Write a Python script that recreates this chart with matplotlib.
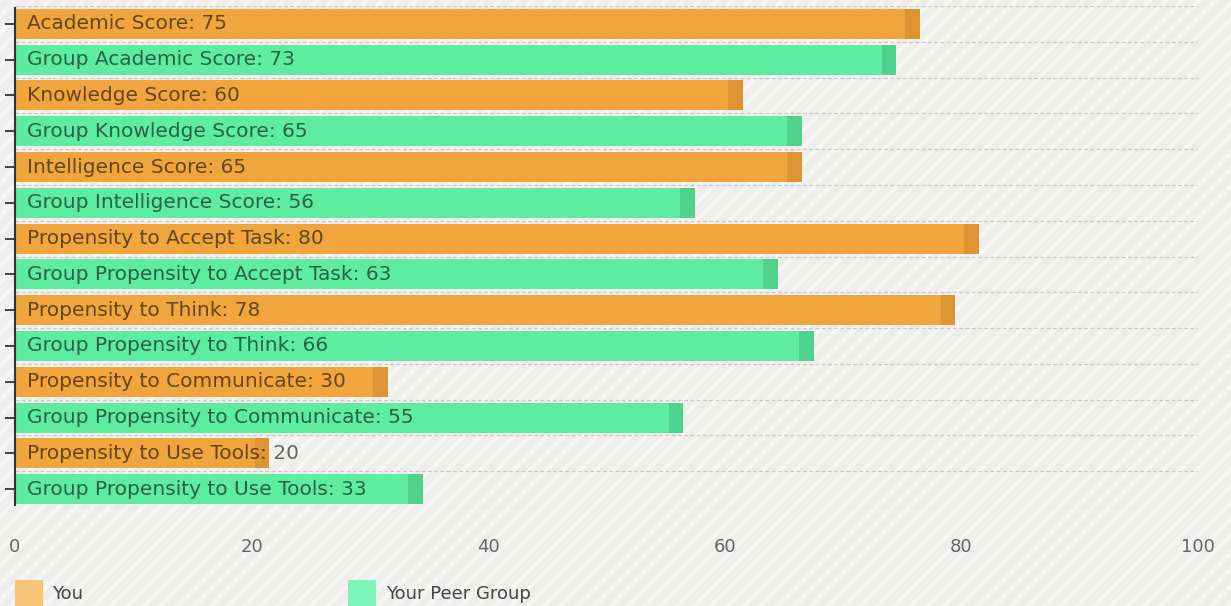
import matplotlib.pyplot as plt
from matplotlib.patches import Rectangle
import numpy as np

labels = ["Academic Score", "Group Academic Score", "Knowledge Score", "Group Knowledge Score",
          "Intelligence Score", "Group Intelligence Score", "Propensity to Accept Task",
          "Group Propensity to Accept Task", "Propensity to Think", "Group Propensity to Think",
          "Propensity to Communicate", "Group Propensity to Communicate",
          "Propensity to Use Tools", "Group Propensity to Use Tools"]
values = [75, 73, 60, 65, 65, 56, 80, 63, 78, 66, 30, 55, 20, 33]
series = ["You", "Peer", "You", "Peer", "You", "Peer", "You", "Peer", "You", "Peer", "You", "Peer", "You", "Peer"]
xticks = [0, 20, 40, 60, 80, 100]
legend_names = ["You", "Your Peer Group"]

plt.rcParams['font.family'] = ['DejaVu Sans']
plt.rcParams['hatch.linewidth'] = 3.0

col = {"You": "#f0a63c", "Peer": "#5eeda0"}
cap = {"You": "#dc9532", "Peer": "#4fd38c"}
leg = {"You": "#f7c374", "Peer": "#80f5ba"}

fig = plt.figure(figsize=(12.31, 6.06), dpi=100)
fig.patch.set_facecolor("#efeeec")
bg = Rectangle((0, 0), 1, 1, transform=fig.transFigure, facecolor="#efeeec",
               edgecolor="#f6f6f4", hatch="//", linewidth=0, zorder=-10)
fig.patches.append(bg)

ax = fig.add_axes([15/1231, 1-507/606, 1183/1231, 501/606])
ax.set_facecolor("none")
n = len(labels)
y = np.arange(n)
h = 0.84
for i in range(n):
    s = series[i]
    v = values[i]
    ax.barh(y[i], v + 0.25, height=h, color=col[s], zorder=2)
    ax.barh(y[i], 1.25, left=v + 0.25, height=h, color=cap[s], zorder=2)
    ax.annotate(f"{labels[i]}: {v}", xy=(0, y[i]), xytext=(12, 0), textcoords="offset pixels",
                va="center", ha="left", fontsize=14.5, color="black", alpha=0.58, zorder=3)

for b in np.arange(-0.5, n, 1.0):
    ax.axhline(b, color="#c8c8c8", lw=0.9, ls=(0, (3, 2)), zorder=1)

ax.set_xlim(0, 100)
ax.set_ylim(n - 0.5, -0.5)
ax.set_yticks(y)
ax.set_yticklabels([])
ax.tick_params(axis="y", direction="out", length=7, width=1.3, color="#333333")
ax.set_xticks(xticks)
ax.set_xticklabels([str(t) for t in xticks])
ax.tick_params(axis="x", length=0, pad=22, labelsize=13, labelcolor="#666666")
for sp in ["top", "right", "bottom"]:
    ax.spines[sp].set_visible(False)
ax.spines["left"].set_color("#333333")
ax.spines["left"].set_linewidth(1.5)
ax.spines["left"].set_bounds(-0.45, n - 0.55)

# legend
fig.patches.append(Rectangle((15/1231, 0), 28/1231, 26/606, transform=fig.transFigure,
                             facecolor=leg["You"], edgecolor="none"))
fig.text(52/1231, 12/606, legend_names[0], fontsize=13, color="#444444", va="center")
fig.patches.append(Rectangle((348/1231, 0), 28/1231, 26/606, transform=fig.transFigure,
                             facecolor=leg["Peer"], edgecolor="none"))
fig.text(386/1231, 12/606, legend_names[1], fontsize=13, color="#444444", va="center")

fig.savefig("out.png", dpi=100, facecolor=fig.get_facecolor())
